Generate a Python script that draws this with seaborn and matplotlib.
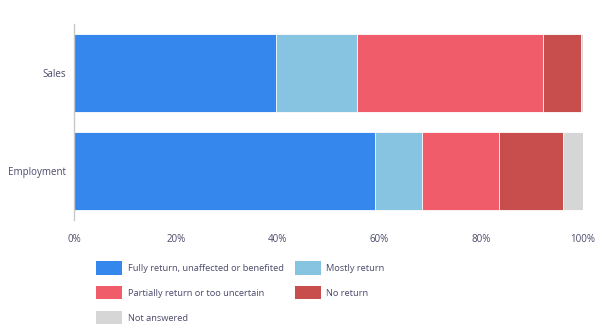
import matplotlib
matplotlib.use("Agg")
import matplotlib.pyplot as plt
from matplotlib.patches import Patch
from matplotlib.ticker import FuncFormatter
import seaborn as sns
import pandas as pd
import numpy as np

categories = ["Sales", "Employment"]
series_names = [
    "Fully return, unaffected or benefited",
    "Mostly return",
    "Partially return or too uncertain",
    "No return",
    "Not answered",
]
fully_return = [39.7, 59.1]
mostly_return = [15.9, 9.2]
partially_return = [36.5, 15.1]
no_return = [7.5, 12.6]
not_answered = [0.4, 4.0]
colors = ["#3587EE", "#86C4E2", "#F05C6A", "#C84E4D", "#D6D6D6"]
x_ticks = [0, 20, 40, 60, 80, 100]

sns.set_theme(style="white")
plt.rcParams["font.family"] = ["Open Sans", "DejaVu Sans"]
text_color = "#4B4A6B"

series = [fully_return, mostly_return, partially_return, no_return, not_answered]
cumulative = np.cumsum(np.array(series), axis=0)

fig = plt.figure(figsize=(6.02, 3.32), dpi=100)
ax = fig.add_axes([74 / 602, 1 - 220 / 332, (583 - 74) / 602, (220 - 24) / 332])

# Stack segments by drawing cumulative totals, largest first
for i in range(len(series) - 1, -1, -1):
    df = pd.DataFrame({"category": categories, "value": cumulative[i]})
    sns.barplot(data=df, y="category", x="value", orient="h", color=colors[i],
                width=0.79, saturation=1, edgecolor="white", linewidth=0.6, ax=ax)

ax.set_xlim(0, 100)
ax.set_xticks(x_ticks)
ax.xaxis.set_major_formatter(FuncFormatter(lambda v, p: f"{v:.0f}%"))
ax.set_xlabel("")
ax.set_ylabel("")
ax.tick_params(axis="both", length=0, labelsize=7, colors=text_color, pad=6)
ax.tick_params(axis="x", pad=10)
for side in ["top", "right", "bottom"]:
    ax.spines[side].set_visible(False)
ax.spines["left"].set_color("#C8C8C8")
ax.spines["left"].set_linewidth(1.0)

order = [0, 2, 4, 1, 3]
handles = [Patch(facecolor=colors[i], edgecolor="none") for i in order]
labels = [series_names[i] for i in order]
fig.legend(handles, labels, ncol=2, loc="upper left",
           bbox_to_anchor=(88 / 602, 1 - 253 / 332), frameon=False,
           fontsize=6.7, labelcolor=text_color, handlelength=2.8, handleheight=1.8,
           handletextpad=0.55, columnspacing=1.2, labelspacing=1.25)

fig.savefig("out.png", dpi=100)
